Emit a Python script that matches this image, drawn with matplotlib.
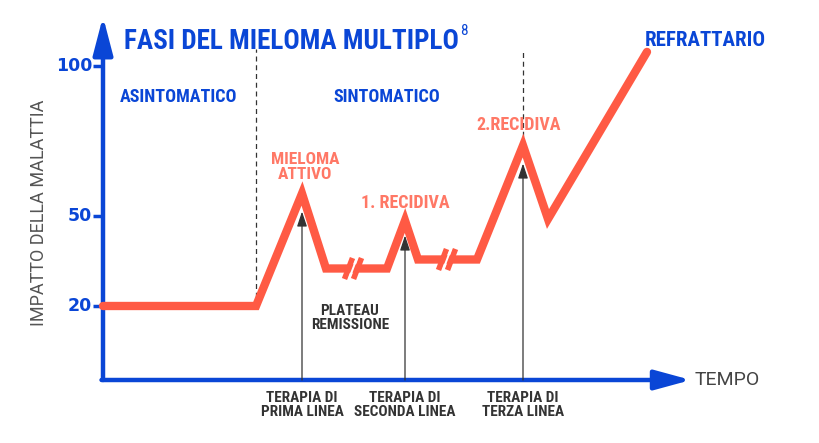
import numpy as np
import matplotlib
matplotlib.use('Agg')
import matplotlib.pyplot as plt

# curva schematica (tempo in unita' arbitrarie, impatto 0-100)
tempo = [0, 15.3, 19.9, 22.3, 28.4, 30.2, 31.5, 37.4, 42.0, 44.5, 54.4]
impatto = [20, 20, 57.5, 32.5, 32.5, 48.5, 35.5, 35.5, 73.5, 49.0, 104.7]
y_ticks = [20, 50, 100]
# interruzioni sui plateau
pause_t = [25.0, 34.4]
pause_v = [32.5, 35.5]
# frecce delle terapie
terapie_t = [19.9, 30.2, 42.0]
terapie_v = [51.5, 43.5, 67.5]
terapie_lab = ['TERAPIA DI\nPRIMA LINEA', 'TERAPIA DI\nSECONDA LINEA', 'TERAPIA DI\nTERZA LINEA']
# fasi separate da linee tratteggiate
fase_t = [15.3, 42.0]
fase_v = [20, 73.5]

blu = '#0a46d6'
rosso = '#ff5a44'
rosa = '#ff7866'
grigio = '#333333'
narrow = ['Roboto Condensed', 'Archivo Narrow', 'Liberation Sans Narrow', 'DejaVu Sans']

fig = plt.figure(figsize=(8.2, 4.43), dpi=100)
ax = fig.add_axes([0, 0, 1, 1])
ax.set_xlim(-10.3, 71.7)
ax.set_ylim(-25.67, 122)
ax.axis('off')

y0 = -4.67  # posizione asse dei tempi
# assi con frecce
ax.annotate('', xy=(0, 116.5), xytext=(0, y0),
            arrowprops=dict(arrowstyle='-|>,head_length=1.15,head_width=0.3',
                            mutation_scale=20, lw=3.2, color=blu,
                            shrinkA=0, shrinkB=0))
ax.annotate('', xy=(58.8, y0), xytext=(-0.15, y0),
            arrowprops=dict(arrowstyle='-|>,head_length=1.1,head_width=0.3',
                            mutation_scale=20, lw=3.2, color=blu,
                            shrinkA=0, shrinkB=0))
for v in y_ticks:
    ax.plot([-1.0, 0], [v, v], color=blu, lw=2.5, solid_capstyle='butt')
    ax.text(-1.1, v, str(v), ha='right', va='center', color=blu,
            fontsize=12.5, fontweight='bold', family='DejaVu Sans')

ax.text(-6.4, 51, 'IMPATTO DELLA MALATTIA', rotation=90, ha='center', va='center',
        color='#555555', fontsize=13, family=['Roboto', 'DejaVu Sans'])
ax.text(59.2, y0, 'TEMPO', ha='left', va='center', color='#444444',
        fontsize=14, family=['Roboto', 'DejaVu Sans'])

# linee tratteggiate delle fasi
for t, v in zip(fase_t, fase_v):
    ax.plot([t, t], [v, 105.5], ls=(0, (4, 3)), color=grigio, lw=0.9)

# curva principale
ax.plot(tempo, impatto, color=rosso, lw=6, solid_joinstyle='miter',
        solid_capstyle='round', zorder=3)

# segni di interruzione //
for t, v in zip(pause_t, pause_v):
    dx, dy = 0.4, 3.5
    for off in (-0.45, 0.45):
        ax.plot([t + off - dx, t + off + dx], [v - dy, v + dy], color=rosso, lw=4,
                zorder=4, solid_capstyle='butt')
    ax.plot([t - dx * 1.1, t + dx * 1.1], [v - dy * 1.1, v + dy * 1.1],
            color='white', lw=1.4, zorder=5, solid_capstyle='butt')

# frecce terapie
for t, v, lab in zip(terapie_t, terapie_v, terapie_lab):
    ax.annotate('', xy=(t, v), xytext=(t, y0),
                arrowprops=dict(arrowstyle='-|>,head_length=0.9,head_width=0.3',
                                mutation_scale=10, lw=0.9, color=grigio,
                                shrinkA=0, shrinkB=0), zorder=6)
    ax.text(t, y0 - 3.6, lab, ha='center', va='top', color=grigio, fontsize=11,
            fontweight='bold', family=narrow, linespacing=1.05)

# titolo e fasi
tit = ax.text(2.1, 108.2, 'FASI DEL MIELOMA MULTIPLO', ha='left', va='center',
              color=blu, fontsize=19.5, fontweight='bold', family=narrow)
ax.annotate('8', xy=(1, 0.62), xycoords=tit, xytext=(1.0, 0),
            textcoords='offset points', ha='left', va='bottom', color=blu,
            fontsize=11, family=narrow)
ax.text(54.2, 108.5, 'REFRATTARIO', ha='left', va='center', color=blu,
        fontsize=15, fontweight='bold', family=narrow)
ax.text(1.7, 89.5, 'ASINTOMATICO', ha='left', va='center', color=blu,
        fontsize=13, fontweight='bold', family=narrow)
ax.text(23.0, 89.5, 'SINTOMATICO', ha='left', va='center', color=blu,
        fontsize=13, fontweight='bold', family=narrow)

# etichette rosse
ax.text(20.2, 66.2, 'MIELOMA\nATTIVO', ha='center', va='center', color=rosa,
        fontsize=12.5, fontweight='bold', family=narrow, linespacing=1.0)
ax.text(30.2, 54.2, '1. RECIDIVA', ha='center', va='center', color=rosa,
        fontsize=13, fontweight='bold', family=narrow)
ax.text(41.6, 80.2, '2.RECIDIVA', ha='center', va='center', color=rosa,
        fontsize=13, fontweight='bold', family=narrow)
ax.text(24.7, 20.5, 'PLATEAU\nREMISSIONE', ha='center', va='top', color=grigio,
        fontsize=11, fontweight='bold', family=narrow, linespacing=1.0)

plt.savefig('out.png', dpi=100)
